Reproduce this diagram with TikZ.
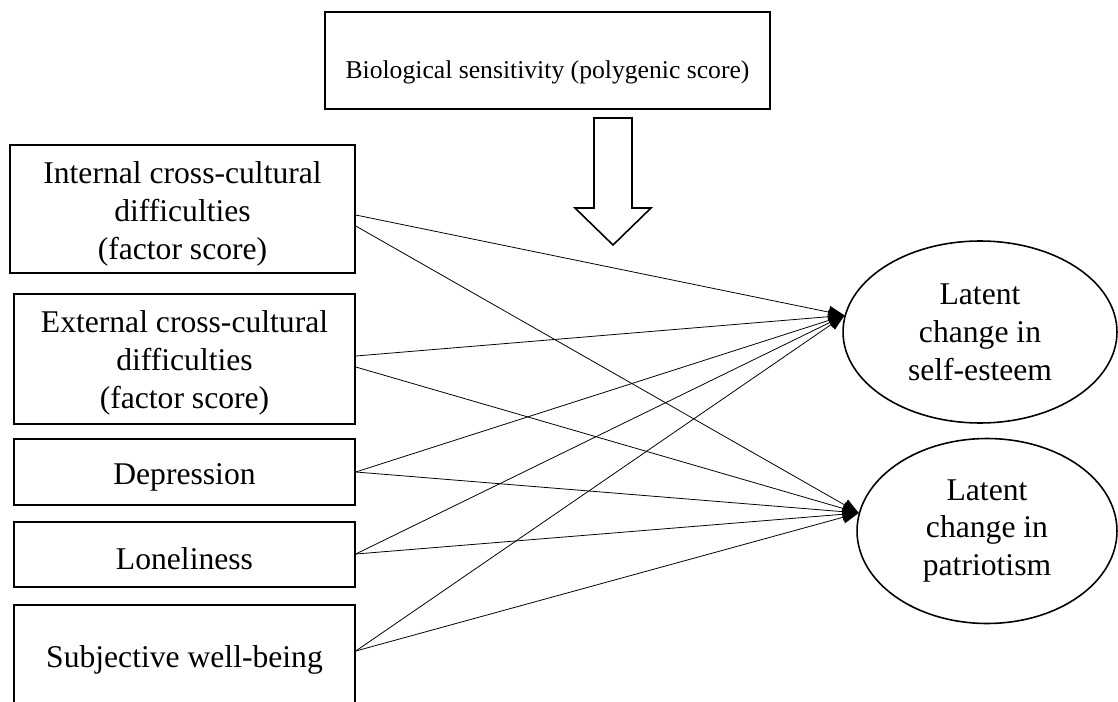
\documentclass[tikz,border=0pt]{standalone}
\usepackage{fontspec}
\setmainfont{Liberation Serif}
\usetikzlibrary{arrows.meta,shapes.geometric}

\begin{document}
\begin{tikzpicture}[x=0.02cm,y=-0.02cm,
  txt/.style={font=\fontsize{18}{21.6}\selectfont, align=center, inner sep=0pt},
  smalltxt/.style={font=\fontsize{14.6}{18}\selectfont, align=center, inner sep=0pt},
  box/.style={draw, line width=0.9pt, rectangle, inner sep=0pt},
  latent/.style={txt, draw, line width=0.9pt, ellipse},
  effect/.style={line width=0.45pt, -{Triangle[length=0.32cm,width=0.25cm]}},
  moderator/.style={draw, line width=0.9pt, line join=miter, fill=white}]

  % canvas
  \clip (0,0) rectangle (1118,702);
  \fill[white] (0,0) rectangle (1118,702);

  % moderator
  \node[box, minimum width=8.9cm, minimum height=1.94cm,
        label={[smalltxt, yshift=-0.24cm]center:{Biological sensitivity (polygenic score)}}]
    (bio) at (547.5,60.5) {};

  % predictors
  \node[box, minimum width=6.9cm, minimum height=2.56cm,
        label={[txt, yshift=-0.1cm]center:{Internal cross-cultural\\difficulties\\(factor score)}}]
    (icd) at (182.5,209) {};
  \node[box, minimum width=6.82cm, minimum height=2.6cm,
        label={[txt, yshift=-0.08cm]center:{External cross-cultural\\difficulties\\(factor score)}}]
    (ecd) at (184.5,359) {};
  \node[box, minimum width=6.82cm, minimum height=1.32cm,
        label={[txt, yshift=-0.1cm]center:{Depression}}]
    (dep) at (184.5,472) {};
  \node[box, minimum width=6.82cm, minimum height=1.3cm,
        label={[txt, yshift=-0.08cm]center:{Loneliness}}]
    (lon) at (184.5,554.5) {};
  \node[box, minimum width=6.82cm, minimum height=2.0cm,
        label={[txt, yshift=-0.1cm]center:{Subjective well-being}}]
    (swb) at (184.5,655) {};

  % outcomes
  \node[latent, minimum width=5.48cm, minimum height=3.64cm] (se) at (980,332)
    {Latent\\change in\\self-esteem};
  \node[latent, minimum width=5.2cm, minimum height=3.7cm] (pa) at (987,531)
    {Latent\\change in\\patriotism};

  % hollow moderation arrow
  \draw[moderator] (594,118) -- (632,118) -- (632,208) -- (651,208) -- (613,245)
    -- (575,208) -- (594,208) -- cycle;

  % regression paths
  \draw[effect] ([yshift=-0.12cm]icd.east) -- (se.173);
  \draw[effect] ([yshift=-0.34cm]icd.east) -- (pa.172);
  \draw[effect] ([yshift=0.06cm]ecd.east) -- (se.173);
  \draw[effect] ([yshift=-0.16cm]ecd.east) -- (pa.172);
  \draw[effect] (dep.east) -- (se.173);
  \draw[effect] (dep.east) -- (pa.172);
  \draw[effect] ([yshift=0.01cm]lon.east) -- (se.173);
  \draw[effect] ([yshift=0.01cm]lon.east) -- (pa.172);
  \draw[effect] ([yshift=0.08cm]swb.east) -- (se.173);
  \draw[effect] ([yshift=0.08cm]swb.east) -- (pa.172);
\end{tikzpicture}
\end{document}
